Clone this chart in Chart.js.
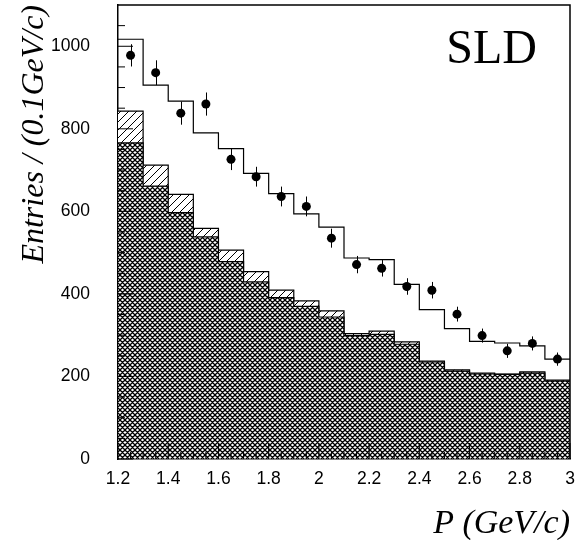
<!DOCTYPE html>
<html>
<head>
<meta charset="utf-8">
<script src="https://cdn.jsdelivr.net/npm/chart.js@4.4.1/dist/chart.umd.min.js"></script>
<style>
    html, body { margin: 0; padding: 0; background: #fff; }
    #wrap { width: 579px; height: 540px; }
</style>
</head>
<body>
<div id="wrap"><canvas id="sldChart"></canvas></div>
<script>
// bin edges in P (GeV/c), 18 bins of 0.1
const binEdges = [1.2, 1.3, 1.4, 1.5, 1.6, 1.7, 1.8, 1.9, 2.0, 2.1, 2.2, 2.3, 2.4, 2.5, 2.6, 2.7, 2.8, 2.9, 3.0];
const binCenters = [1.25, 1.35, 1.45, 1.55, 1.65, 1.75, 1.85, 1.95, 2.05, 2.15, 2.25, 2.35, 2.45, 2.55, 2.65, 2.75, 2.85, 2.95];

// open histogram (total)
const totalMC = [1017, 906, 867, 790, 752, 692, 643, 594, 562, 487, 483, 423, 362, 316, 285, 281, 274, 242];
// top of single-hatched histogram
const hatchedMC = [843, 712, 641, 559, 506, 454, 409, 383, 359, 304, 310, 284, 237, 216, 208, 206, 211, 191];
// cross-hatched histogram
const crossMC = [766, 661, 597, 538, 478, 429, 391, 370, 344, 299, 302, 278, 235, 213, 206, 205, 208, 189];

// data points with errors
const dataY = [978, 936, 838, 860, 726, 684, 636, 612, 535, 471, 462, 418, 409, 351, 299, 262, 280, 242];
const dataErr = [27, 30, 28, 28, 26, 24, 24, 24, 23, 21, 20, 20, 20, 18, 17, 17, 17, 16];

const xTickValues = [1.2, 1.4, 1.6, 1.8, 2.0, 2.2, 2.4, 2.6, 2.8, 3.0];
const xTickLabels = ['1.2', '1.4', '1.6', '1.8', '2', '2.2', '2.4', '2.6', '2.8', '3'];
const yTickValues = [0, 200, 400, 600, 800, 1000];
const yTickLabels = ['0', '200', '400', '600', '800', '1000'];

// step points: value i spans [edge i, edge i+1]
function steps(vals) {
    return binEdges.map((e, i) => ({ x: e, y: vals[Math.min(i, vals.length - 1)] }));
}

function makePattern(size, cross, lw) {
    const c = document.createElement('canvas');
    c.width = size; c.height = size;
    const g = c.getContext('2d');
    g.fillStyle = '#fff';
    g.fillRect(0, 0, size, size);
    g.strokeStyle = '#000';
    g.lineWidth = lw;
    g.beginPath();
    g.moveTo(-1, size + 1); g.lineTo(size + 1, -1);
    g.moveTo(-1, 1); g.lineTo(1, -1);
    g.moveTo(size - 1, size + 1); g.lineTo(size + 1, size - 1);
    if (cross) {
        g.moveTo(-1, -1); g.lineTo(size + 1, size + 1);
        g.moveTo(size - 1, -1); g.lineTo(size + 1, 1);
        g.moveTo(-1, size - 1); g.lineTo(1, size + 1);
    }
    g.stroke();
    return g.createPattern(c, 'repeat');
}

// error bars, inner ticks, frame and experiment label
const decorPlugin = {
    id: 'decor',
    afterDatasetsDraw(chart) {
        const ctx = chart.ctx;
        const xs = chart.scales.x, ys = chart.scales.y;
        const area = chart.chartArea;
        ctx.save();
        ctx.strokeStyle = '#000';

        // error bars
        ctx.lineWidth = 1;
        ctx.beginPath();
        binCenters.forEach((x, i) => {
            const px = Math.round(xs.getPixelForValue(x)) + 0.5;
            ctx.moveTo(px, ys.getPixelForValue(dataY[i] - dataErr[i]));
            ctx.lineTo(px, ys.getPixelForValue(dataY[i] + dataErr[i]));
        });
        ctx.stroke();

        // ticks inside the frame
        ctx.beginPath();
        for (let k = 0; k <= 36; k++) {
            const px = xs.getPixelForValue(1.2 + k * 0.05);
            const len = k % 4 === 0 ? 16 : 7;
            ctx.moveTo(px, area.bottom);
            ctx.lineTo(px, area.bottom - len);
        }
        for (let k = 0; k <= 21; k++) {
            const py = ys.getPixelForValue(k * 50);
            const len = k % 4 === 0 ? 15 : 7;
            ctx.moveTo(area.left, py);
            ctx.lineTo(area.left + len, py);
        }
        ctx.stroke();

        // frame top and right
        ctx.lineWidth = 1.5;
        ctx.beginPath();
        ctx.moveTo(area.left, area.top);
        ctx.lineTo(area.right, area.top);
        ctx.lineTo(area.right, area.bottom);
        ctx.stroke();

        ctx.fillStyle = '#000';
        ctx.font = '48px "Liberation Serif"';
        ctx.textAlign = 'right';
        ctx.textBaseline = 'alphabetic';
        ctx.fillText('SLD', area.right - 33, 63);
        ctx.restore();
    }
};

const ctx = document.getElementById('sldChart');
new Chart(ctx, {
    type: 'line',
    data: {
        datasets: [
            {
                label: 'Data',
                data: binCenters.map((x, i) => ({ x: x, y: dataY[i] })),
                showLine: false,
                pointRadius: 4.5,
                pointBackgroundColor: '#000',
                pointBorderColor: '#000',
                pointBorderWidth: 0
            },
            {
                label: 'Total',
                data: steps(totalMC),
                stepped: 'before',
                borderColor: '#000',
                borderWidth: 1.2,
                pointRadius: 0,
                fill: false
            },
            {
                label: 'Cross',
                data: steps(crossMC),
                stepped: 'before',
                borderColor: '#000',
                borderWidth: 1.2,
                pointRadius: 0,
                fill: 'origin',
                backgroundColor: makePattern(5, true, 1.3)
            },
            {
                label: 'Hatched',
                data: steps(hatchedMC),
                stepped: 'before',
                borderColor: '#000',
                borderWidth: 1.2,
                pointRadius: 0,
                fill: 'origin',
                backgroundColor: makePattern(8, false, 1)
            }
        ]
    },
    options: {
        responsive: true,
        maintainAspectRatio: false,
        animation: false,
        layout: { padding: { top: 5, right: 9, left: 0, bottom: 0 } },
        plugins: {
            legend: { display: false },
            tooltip: { enabled: false }
        },
        scales: {
            x: {
                type: 'linear',
                min: 1.2,
                max: 3.0,
                afterBuildTicks: (s) => { s.ticks = xTickValues.map(v => ({ value: v })); },
                afterFit: (s) => { s.height = 81; s.paddingLeft = 0; s.paddingRight = 0; },
                ticks: {
                    color: '#000',
                    padding: 10,
                    maxRotation: 0,
                    autoSkip: false,
                    font: { family: '"Liberation Sans"', size: 17.5 },
                    callback: (v, i) => xTickLabels[i]
                },
                grid: { display: false, drawTicks: false },
                border: { display: true, color: '#000', width: 1.5 },
                title: {
                    display: true,
                    text: 'P (GeV/c)',
                    align: 'end',
                    color: '#000',
                    padding: { top: 0, bottom: 3 },
                    font: { family: '"Liberation Serif"', style: 'italic', size: 34, lineHeight: 0.75 }
                }
            },
            y: {
                min: 0,
                max: 1100,
                afterBuildTicks: (s) => { s.ticks = yTickValues.map(v => ({ value: v })); },
                afterFit: (s) => { s.width = 118; s.paddingTop = 0; s.paddingBottom = 0; },
                ticks: {
                    color: '#000',
                    padding: 28,
                    font: { family: '"Liberation Sans"', size: 17.5 },
                    callback: (v, i) => yTickLabels[i]
                },
                grid: { display: false, drawTicks: false },
                border: { display: true, color: '#000', width: 1.5 },
                title: {
                    display: true,
                    text: 'Entries / (0.1GeV/c)',
                    align: 'end',
                    color: '#000',
                    padding: { top: 19, bottom: 0 },
                    font: { family: '"Liberation Serif"', style: 'italic', size: 32, lineHeight: 1 }
                }
            }
        }
    },
    plugins: [decorPlugin]
});
</script>
</body>
</html>
